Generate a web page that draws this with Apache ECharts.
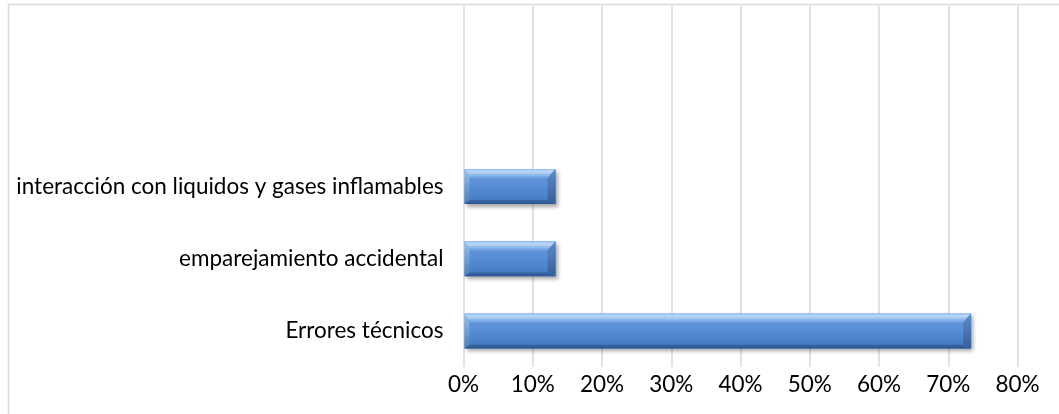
<!DOCTYPE html>
<html>
<head>
<meta charset="utf-8">
<script src="https://cdn.jsdelivr.net/npm/echarts@6/dist/echarts.min.js"></script>
<style>
  html, body { margin: 0; padding: 0; background: #ffffff; }
  #chart { width: 1059px; height: 414px; }
</style>
</head>
<body>
<div id="chart"></div>
<script>
// Causes, listed bottom-to-top; the two blank slots leave room above the bars
const categories = [
  'Errores técnicos',
  'emparejamiento accidental',
  'interacción con liquidos y gases inflamables',
  '',
  ''
];
// Share of incidents per cause (percent)
const shares = [73.3, 13.3, 13.3, null, null];
// Horizontal axis ticks (percent)
const axisMin = 0;
const axisMax = 80;
const axisStep = 10;

const FONT = 'Lato, "Open Sans", sans-serif';
const chart = echarts.init(document.getElementById('chart'));

// Bevelled bar: face with a light top edge, dark bottom/right edges
function renderBevelBar(params, api) {
  const val = api.value(0);
  if (val == null || isNaN(val)) return null;
  const idx = api.value(1);
  const start = api.coord([0, idx]);
  const end = api.coord([val, idx]);
  const h = api.size([0, 1])[1] * 0.485;
  const x0 = start[0] + 1, x1 = end[0];
  const y0 = start[1] - h / 2, y1 = start[1] + h / 2;
  const b = 8, bt = 9, bb = 4, bl = 5;
  const grad = (stops) => new echarts.graphic.LinearGradient(0, 0, 0, 1,
    stops.map((c) => ({ offset: c[0], color: c[1] })));
  return {
    type: 'group',
    children: [
      {
        type: 'rect',
        shape: { x: x0, y: y0, width: x1 - x0, height: y1 - y0 },
        style: {
          fill: grad([[0, '#6a9fe0'], [0.4, '#5a90d7'], [1, '#4479bf']]),
          shadowBlur: 4, shadowOffsetX: 2, shadowOffsetY: 3,
          shadowColor: 'rgba(0,0,0,0.35)'
        }
      },
      {
        type: 'polygon',
        shape: { points: [[x0, y0], [x1, y0], [x1 - b, y0 + bt], [x0 + bl, y0 + bt]] },
        style: { fill: grad([[0, '#94bff0'], [0.3, '#bcd8f8'], [1, '#6a9fe0']]) }
      },
      {
        type: 'polygon',
        shape: { points: [[x0, y1], [x1, y1], [x1 - b, y1 - bb], [x0 + bl, y1 - bb]] },
        style: { fill: grad([[0, '#3b68a4'], [1, '#2c5490']]) }
      },
      {
        type: 'polygon',
        shape: { points: [[x1, y0], [x1, y1], [x1 - b, y1 - bb], [x1 - b, y0 + bt]] },
        style: { fill: grad([[0, '#5d8ccb'], [1, '#355f9a']]) }
      },
      {
        type: 'polygon',
        shape: { points: [[x0, y0], [x0 + bl, y0 + bt], [x0 + bl, y1 - bb], [x0, y1]] },
        style: { fill: grad([[0, '#9cc1ef'], [1, '#4a7cbd']]) }
      }
    ]
  };
}

chart.setOption({
  backgroundColor: '#ffffff',
  animation: false,
  graphic: [{
    type: 'rect',
    shape: { x: 8.5, y: 4.5, width: 1100, height: 500 },
    style: { fill: 'none', stroke: '#d9d9d9', lineWidth: 1.5 },
    silent: true
  }],
  grid: { left: 463.5, right: 41.5, top: 6, bottom: 47 },
  xAxis: {
    type: 'value',
    min: axisMin, max: axisMax, interval: axisStep,
    axisLine: { show: false },
    axisTick: { show: false },
    splitLine: { lineStyle: { color: '#d9d9d9', width: 1.5 } },
    axisLabel: {
      formatter: '{value}%',
      color: '#000000',
      fontFamily: FONT, fontSize: 22.5, margin: 6
    }
  },
  yAxis: {
    type: 'category',
    data: categories,
    axisLine: { show: false },
    axisTick: { show: false },
    axisLabel: {
      color: '#000000',
      fontFamily: FONT, fontSize: 22.5, margin: 20
    }
  },
  series: [{
    type: 'custom',
    renderItem: renderBevelBar,
    encode: { x: 0, y: 1 },
    data: shares.map((v, i) => [v, i])
  }]
});
</script>
</body>
</html>
